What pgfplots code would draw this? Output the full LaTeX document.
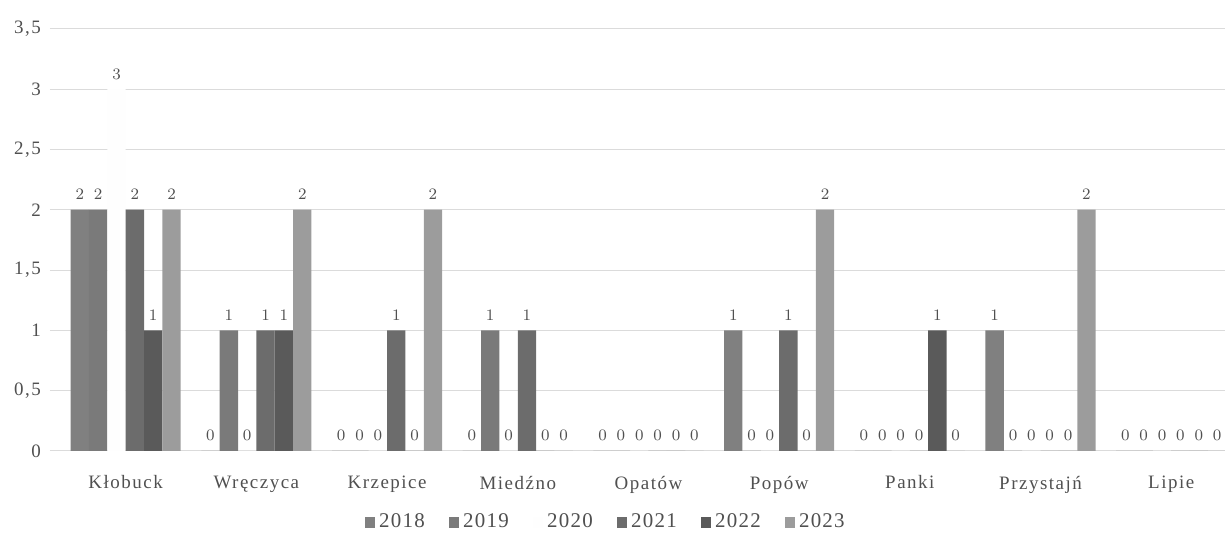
\documentclass[border=0pt]{standalone}
\usepackage{fontspec}
\setmainfont{Liberation Serif}
\usepackage{pgfplots}
\pgfplotsset{compat=1.18}
\definecolor{c18}{HTML}{808080}
\definecolor{c19}{HTML}{7A7A7A}
\definecolor{c20}{HTML}{FEFEFE}
\definecolor{c21}{HTML}{6C6C6C}
\definecolor{c22}{HTML}{5A5A5A}
\definecolor{c23}{HTML}{9C9C9C}
\definecolor{txt}{HTML}{505050}
\begin{document}
\begin{tikzpicture}
\begin{axis}[
  scale only axis,
  width=589pt, height=211.5pt,
  ybar=0pt, bar width=9.2pt,
  xmin=-0.58, xmax=8.41, ymin=0, ymax=3.5,
  xtick={0,...,8},
  xticklabels={Kłobuck,Wręczyca,Krzepice,Miedźno,Opatów,Popów,Panki,Przystajń,Lipie},
  ytick={0,0.5,...,3.5},
  major tick length=0pt,
  axis line style={draw=none},
  ymajorgrids, grid style={gray!28, line width=0.5pt},
  yticklabel style={/pgf/number format/use comma, /pgf/number format/assume math mode=true, font=\fontsize{9.5}{11}\selectfont\addfontfeature{LetterSpace=8}, text=txt, xshift=-1pt},
  xticklabel style={font=\fontsize{9.5}{11}\selectfont\addfontfeature{LetterSpace=8}, text=txt, yshift=-9pt},
  nodes near coords,
  every node near coord/.append style={font=\fontsize{8}{9}\selectfont, text=txt, yshift=1.5pt},
  legend style={at={(0.474,-0.13)}, anchor=north, draw=none, legend columns=6, font=\fontsize{10.5}{12}\selectfont\addfontfeature{LetterSpace=6}, text=txt, /tikz/every even column/.append style={column sep=10pt}},
  legend image code/.code={\fill[#1, draw=none] (0pt,-2.6pt) rectangle (5.2pt,2.6pt);},
]
\addplot[fill=c18, draw=none] coordinates {(0,2) (1,0) (2,0) (3,0) (4,0) (5,1) (6,0) (7,1) (8,0)};
\addplot[fill=c19, draw=none] coordinates {(0,2) (1,1) (2,0) (3,1) (4,0) (5,0) (6,0) (7,0) (8,0)};
\addplot[fill=c20, draw=none] coordinates {(0,3) (1,0) (2,0) (3,0) (4,0) (5,0) (6,0) (7,0) (8,0)};
\addplot[fill=c21, draw=none] coordinates {(0,2) (1,1) (2,1) (3,1) (4,0) (5,1) (6,0) (7,0) (8,0)};
\addplot[fill=c22, draw=none] coordinates {(0,1) (1,1) (2,0) (3,0) (4,0) (5,0) (6,1) (7,0) (8,0)};
\addplot[fill=c23, draw=none] coordinates {(0,2) (1,2) (2,2) (3,0) (4,0) (5,2) (6,0) (7,2) (8,0)};
\legend{2018,2019,2020,2021,2022,2023}
\end{axis}
\path (current axis.south west) ++(-25pt,-51pt) rectangle ([yshift=14.5pt]current axis.north east);
\end{tikzpicture}
\end{document}
